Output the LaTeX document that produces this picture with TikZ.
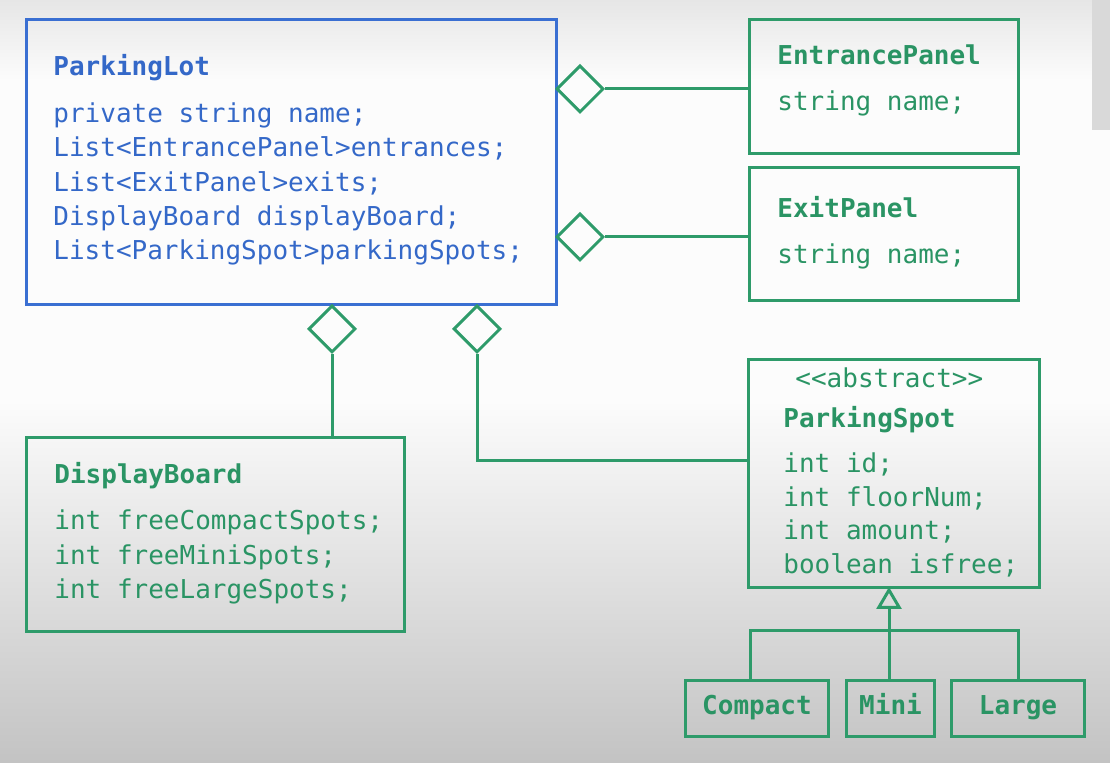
\documentclass[tikz,border=0pt]{standalone}
\usepackage{fontspec}
\newfontfamily\codefont{DejaVu Sans Mono}
\usetikzlibrary{shapes.geometric,arrows.meta}
\definecolor{umlgreen}{HTML}{2E9B6A}
\definecolor{umlgreentext}{HTML}{2A9464}
\definecolor{umlblue}{HTML}{3A6FD2}
\definecolor{umlbluetext}{HTML}{3468C8}
\definecolor{bgtop}{HTML}{E6E6E6}
\definecolor{bgmid}{HTML}{FCFCFC}
\definecolor{bgbot}{HTML}{C3C3C3}
\tikzset{
  classbox/.style={draw=umlgreen, line width=1.5pt, rectangle, inner sep=0pt, anchor=north west},
  lotbox/.style={draw=umlblue, line width=1.5pt, rectangle, inner sep=0pt, anchor=north west},
  code/.style={font=\codefont\fontsize{13pt}{15pt}\selectfont, inner sep=0pt, anchor=base west},
  gcode/.style={code, text=umlgreentext},
  gtitle/.style={gcode, font=\codefont\bfseries\fontsize{13pt}{15pt}\selectfont},
  bcode/.style={code, text=umlbluetext},
  btitle/.style={bcode, font=\codefont\bfseries\fontsize{13pt}{15pt}\selectfont},
  agg/.style={diamond, draw=umlgreen, line width=1.5pt, inner sep=0pt, minimum width=23.5pt, minimum height=23.5pt, aspect=1},
  conn/.style={draw=umlgreen, line width=1.5pt},
}
\begin{document}
\begin{tikzpicture}[x=0.5pt,y=-0.5pt]
\useasboundingbox (0,0) rectangle (1110,763);
% background
\shade[top color=bgtop, bottom color=bgmid] (0,0) rectangle (1110,80);
\fill[bgmid] (0,79) rectangle (1110,401);
\shade[top color=bgmid, bottom color=bgbot] (0,400) rectangle (1110,763);
\fill[black!15] (1092,0) rectangle (1110,130);

% boxes
\node[lotbox, minimum width=265pt, minimum height=142.5pt] (lot) at (25,18) {};
\node[classbox, minimum width=134.5pt, minimum height=67pt] (ent) at (748,18) {};
\node[classbox, minimum width=134.5pt, minimum height=66.5pt] (exitp) at (748,166) {};
\node[classbox, minimum width=189pt, minimum height=97pt] (disp) at (25,436) {};
\node[classbox, minimum width=145.5pt, minimum height=114pt] (spot) at (747,358) {};
\node[classbox, minimum width=71.5pt, minimum height=28pt] (comp) at (684,679) {};
\node[classbox, minimum width=44pt, minimum height=28pt] (mini) at (845,679) {};
\node[classbox, minimum width=66.5pt, minimum height=28pt] (large) at (950,679) {};

% ParkingLot text
\node[btitle] (lott) at (53,76) {ParkingLot};
\node[bcode] (lot1) at (53,123) {private string name;};
\node[bcode] (lot2) at (53,157) {List<EntrancePanel>entrances;};
\node[bcode] (lot3) at (53,192) {List<ExitPanel>exits;};
\node[bcode] (lot4) at (53,226) {DisplayBoard displayBoard;};
\node[bcode] (lot5) at (53,260) {List<ParkingSpot>parkingSpots;};

% EntrancePanel / ExitPanel
\node[gtitle] (entt) at (777,65) {EntrancePanel};
\node[gcode] (ent1) at (777,111) {string name;};
\node[gtitle] (exitt) at (777,218) {ExitPanel};
\node[gcode] (exit1) at (777,264) {string name;};

% DisplayBoard
\node[gtitle] (dispt) at (54,484) {DisplayBoard};
\node[gcode] (disp1) at (54,530) {int freeCompactSpots;};
\node[gcode] (disp2) at (54,565) {int freeMiniSpots;};
\node[gcode] (disp3) at (54,599) {int freeLargeSpots;};

% ParkingSpot
\node[gcode] (spota) at (795,388) {<{}<abstract>{}>};
\node[gtitle] (spott) at (783,428) {ParkingSpot};
\node[gcode] (spot1) at (783,473) {int id;};
\node[gcode] (spot2) at (783,507) {int floorNum;};
\node[gcode] (spot3) at (783,540) {int amount;};
\node[gcode] (spot4) at (783,574) {boolean isfree;};

% subclasses
\node[gtitle, anchor=base] (compt) at (comp.center |- 0,715) {Compact};
\node[gtitle, anchor=base] (minit) at (mini.center |- 0,715) {Mini};
\node[gtitle, anchor=base] (larget) at (large.center |- 0,715) {Large};

% aggregation diamonds
\node[agg] (dent) at (580,89) {};
\node[agg] (dexit) at (580,237) {};
\node[agg] (ddisp) at (332,329) {};
\node[agg] (dspot) at (477,329) {};

\draw[conn] (dent.east) -- (ent.west |- dent.east);
\draw[conn] (dexit.east) -- (exitp.west |- dexit.east);
\draw[conn] (ddisp.south) -- (ddisp.south |- disp.north);
\coordinate (spotjoin) at (747,461);
\draw[conn] (dspot.south) |- (spotjoin);

% inheritance
\coordinate (bus) at (889,631);
\coordinate (spotbase) at (889,587);
\draw[conn, -{Triangle[open, length=11pt, width=12.5pt, line width=1.5pt]}] (mini.north -| bus) -- (spotbase);
\draw[conn] (comp.north -| 750,0) |- (bus) -| (large.north -| 1018,0);
\end{tikzpicture}
\end{document}
